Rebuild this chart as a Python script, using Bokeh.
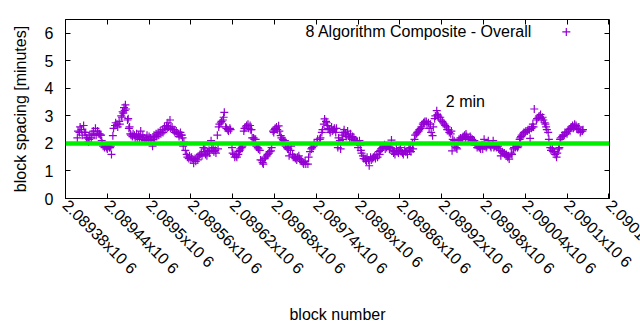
import math
from bokeh.plotting import figure
from bokeh.models import Range1d, FixedTicker, LinearAxis, Label, Span, ColumnDataSource
from bokeh.embed import file_html
from bokeh.resources import INLINE

# ---------------- data ----------------
block = [
    2089397, 2089398, 2089400, 2089401, 2089403, 2089404, 2089406, 2089407, 2089409, 2089410,
    2089412, 2089413, 2089414, 2089415, 2089417, 2089418, 2089420, 2089421, 2089423, 2089424,
    2089426, 2089427, 2089429, 2089430, 2089431, 2089432, 2089433, 2089434, 2089436, 2089437,
    2089439, 2089440, 2089442, 2089443, 2089444, 2089445, 2089446, 2089448, 2089449, 2089451,
    2089452, 2089454, 2089455, 2089457, 2089458, 2089460, 2089461, 2089462, 2089463, 2089464,
    2089465, 2089466, 2089467, 2089469, 2089470, 2089471, 2089472, 2089473, 2089474, 2089476,
    2089477, 2089479, 2089480, 2089482, 2089483, 2089485, 2089486, 2089487, 2089488, 2089490,
    2089491, 2089493, 2089494, 2089496, 2089497, 2089499, 2089500, 2089502, 2089503, 2089505,
    2089506, 2089507, 2089508, 2089510, 2089511, 2089513, 2089514, 2089516, 2089517, 2089519,
    2089520, 2089522, 2089523, 2089525, 2089526, 2089527, 2089528, 2089530, 2089531, 2089533,
    2089534, 2089536, 2089537, 2089539, 2089540, 2089542, 2089543, 2089545, 2089546, 2089547,
    2089548, 2089549, 2089550, 2089552, 2089554, 2089555, 2089557, 2089558, 2089560, 2089561,
    2089563, 2089564, 2089566, 2089567, 2089569, 2089570, 2089572, 2089573, 2089575, 2089576,
    2089578, 2089579, 2089580, 2089581, 2089583, 2089584, 2089586, 2089587, 2089589, 2089590,
    2089592, 2089593, 2089595, 2089596, 2089598, 2089599, 2089600, 2089601, 2089603, 2089604,
    2089606, 2089607, 2089608, 2089610, 2089611, 2089613, 2089614, 2089616, 2089617, 2089619,
    2089620, 2089622, 2089623, 2089625, 2089626, 2089628, 2089629, 2089630, 2089631, 2089633,
    2089634, 2089636, 2089637, 2089639, 2089640, 2089642, 2089643, 2089645, 2089646, 2089647,
    2089648, 2089650, 2089651, 2089653, 2089654, 2089656, 2089657, 2089659, 2089660, 2089662,
    2089663, 2089664, 2089666, 2089667, 2089669, 2089670, 2089672, 2089673, 2089675, 2089676,
    2089678, 2089679, 2089680, 2089681, 2089683, 2089684, 2089686, 2089687, 2089689, 2089690,
    2089692, 2089693, 2089695, 2089696, 2089698, 2089699, 2089700, 2089701, 2089703, 2089704,
    2089706, 2089707, 2089709, 2089710, 2089712, 2089713, 2089715, 2089716, 2089718, 2089719,
    2089721, 2089722, 2089724, 2089725, 2089728, 2089729, 2089731, 2089733, 2089734, 2089736,
    2089737, 2089741, 2089742, 2089745, 2089746, 2089748, 2089749, 2089751, 2089752, 2089754,
    2089755, 2089756, 2089757, 2089759, 2089760, 2089762, 2089763, 2089765, 2089766, 2089768,
    2089769, 2089771, 2089772, 2089774, 2089775, 2089777, 2089778, 2089779, 2089780, 2089782,
    2089783, 2089785, 2089786, 2089788, 2089789, 2089791, 2089792, 2089794, 2089795, 2089797,
    2089798, 2089799, 2089800, 2089802, 2089803, 2089804, 2089805, 2089807, 2089808, 2089810,
    2089811, 2089812, 2089813, 2089815, 2089816, 2089818, 2089819, 2089821, 2089822, 2089824,
    2089825, 2089827, 2089828, 2089830, 2089831, 2089832, 2089833, 2089835, 2089836, 2089838,
    2089839, 2089841, 2089842, 2089844, 2089845, 2089847, 2089848, 2089850, 2089851, 2089852,
    2089853, 2089855, 2089856, 2089858, 2089859, 2089861, 2089862, 2089864, 2089865, 2089867,
    2089868, 2089870, 2089871, 2089873, 2089874, 2089875, 2089876, 2089878, 2089879, 2089881,
    2089882, 2089884, 2089885, 2089887, 2089888, 2089890, 2089891, 2089893, 2089894, 2089895,
    2089896, 2089898, 2089899, 2089901, 2089902, 2089904, 2089905, 2089907, 2089908, 2089910,
    2089911, 2089913, 2089914, 2089915, 2089916, 2089918, 2089919, 2089921, 2089922, 2089924,
    2089925, 2089927, 2089928, 2089930, 2089931, 2089933, 2089934, 2089935, 2089936, 2089938,
    2089939, 2089941, 2089942, 2089944, 2089945, 2089947, 2089948, 2089950, 2089951, 2089953,
    2089954, 2089955, 2089956, 2089958, 2089959, 2089961, 2089962, 2089964, 2089965, 2089967,
    2089968, 2089970, 2089971, 2089973, 2089974, 2089975, 2089976, 2089978, 2089979, 2089981,
    2089982, 2089984, 2089985, 2089987, 2089988, 2089990, 2089991, 2089993, 2089994, 2089995,
    2089996, 2089998, 2089999, 2090001, 2090002, 2090004, 2090005, 2090007, 2090008, 2090010,
    2090011, 2090013, 2090014, 2090015, 2090016, 2090017, 2090020, 2090021, 2090023, 2090024,
    2090026, 2090027, 2090029, 2090030, 2090032, 2090033, 2090034, 2090035, 2090037, 2090038,
    2090040, 2090041, 2090043, 2090044, 2090046, 2090047, 2090049, 2090050, 2090051, 2090052,
    2090053, 2090056, 2090057, 2090059, 2090060, 2090062, 2090063, 2090065, 2090066, 2090068,
    2090069, 2090070, 2090071, 2090073, 2090074, 2090076, 2090077, 2090079, 2090080, 2090082,
    2090083, 2090085, 2090086, 2090088, 2090089, 2090090, 2090091, 2090093, 2090094, 2090096,
    2090097, 2090099, 2090100, 2090102, 2090103, 2090105, 2090106, 2090108, 2090109, 2090110,
    2090111, 2090113, 2090114, 2090116, 2090117, 2090119, 2090120, 2090122, 2090123,
]

spacing_minutes = [
    2.2, 2.45, 2.4, 2.6, 2.5, 2.3, 2.65, 2.4, 2.4, 2.2,
    2.2, 2.05, 2.15, 2.3, 2.2, 2.35, 2.45, 2.3, 2.55, 2.3,
    2.45, 2.35, 2.35, 2.3, 2.3, 2.1, 2.0, 1.9, 1.85, 1.9,
    1.85, 1.8, 1.9, 1.85, 1.85, 1.9, 1.6, 2.28, 2.55, 2.65,
    2.75, 2.7, 2.6, 2.8, 2.7, 3.0, 2.95, 3.15, 3.1, 3.3,
    3.2, 3.4, 3.25, 2.85, 2.9, 2.55, 2.6, 2.35, 2.3, 2.25,
    2.35, 2.3, 2.2, 2.35, 2.2, 2.3, 2.15, 2.25, 2.45, 2.2,
    2.3, 2.2, 2.1, 2.15, 2.3, 2.1, 2.25, 2.2, 2.1, 1.9,
    2.15, 2.3, 2.2, 2.35, 2.25, 2.4, 2.3, 2.45, 2.35, 2.5,
    2.4, 2.6, 2.5, 2.65, 2.55, 2.75, 2.6, 2.85, 2.55, 2.6,
    2.5, 2.5, 2.4, 2.45, 2.35, 2.35, 2.25, 2.4, 2.3, 2.3,
    2.2, 1.9, 2.05, 1.75, 1.6, 1.5, 1.45, 1.55, 1.4, 1.5,
    1.4, 1.28, 1.45, 1.35, 1.5, 1.4, 1.55, 1.6, 1.65, 1.55,
    1.85, 1.7, 1.8, 1.6, 1.55, 1.7, 1.75, 1.65, 2.1, 1.8,
    1.85, 1.7, 1.75, 1.65, 2.3, 1.8, 2.6, 2.7, 2.75, 2.8,
    2.85, 2.95, 3.13, 2.6, 2.55, 2.5, 2.45, 2.55, 2.5, 1.85,
    1.65, 1.6, 1.5, 1.55, 1.5, 1.6, 1.7, 1.75, 1.8, 1.85,
    1.9, 2.45, 2.55, 2.6, 2.65, 2.7, 2.55, 2.65, 2.5, 2.5,
    2.2, 2.2, 2.15, 2.15, 1.9, 1.85, 1.8, 1.75, 1.4, 1.37,
    1.3, 1.25, 1.45, 1.5, 1.55, 1.6, 1.65, 1.7, 1.73, 1.85,
    2.45, 2.4, 2.5, 2.55, 2.6, 2.5, 2.64, 2.45, 2.28, 2.2,
    2.15, 2.1, 2.1, 1.9, 1.85, 1.8, 1.8, 1.55, 1.75, 1.9,
    1.6, 1.5, 1.5, 1.45, 1.4, 1.5, 1.55, 1.45, 1.4, 1.35,
    1.3, 1.25, 1.35, 1.25, 1.25, 1.5, 1.7, 1.8, 1.85, 1.9,
    2.0, 2.05, 2.15, 2.15, 2.2, 2.4, 2.5, 2.7, 2.89, 2.8,
    2.75, 2.65, 2.55, 2.5, 2.4, 2.6, 2.45, 2.5, 2.55, 2.4,
    2.55, 1.85, 2.2, 2.1, 1.8, 2.3, 2.15, 2.4, 2.5, 2.35,
    2.25, 2.45, 2.3, 2.2, 2.35, 2.15, 2.25, 2.2, 2.1, 2.1,
    2.05, 2.05, 1.85, 2.1, 1.95, 1.75, 1.65, 1.55, 1.45, 1.45,
    1.4, 1.35, 1.5, 1.4, 1.19, 1.5, 1.4, 1.45, 1.5, 1.55,
    1.45, 1.6, 1.5, 1.7, 1.6, 1.75, 1.8, 1.85, 1.9, 1.95,
    1.8, 1.85, 1.9, 1.9, 1.8, 1.85, 2.12, 1.75, 1.65, 1.7,
    1.6, 1.8, 1.7, 1.65, 1.75, 1.85, 1.7, 1.65, 1.6, 1.75,
    1.7, 1.7, 1.6, 1.8, 1.75, 1.85, 1.7, 2.0, 1.8, 2.15,
    2.3, 2.35, 2.4, 2.45, 2.5, 2.55, 2.6, 2.7, 2.75, 2.75,
    2.8, 2.8, 2.7, 2.75, 2.55, 2.7, 2.4, 2.28, 2.6, 2.9,
    3.0, 3.19, 3.05, 3.0, 2.95, 2.95, 2.85, 2.8, 2.75, 2.7,
    2.65, 2.6, 2.5, 2.5, 2.4, 2.35, 2.45, 1.73, 2.15, 2.1,
    1.9, 1.85, 1.8, 2.1, 2.15, 2.2, 2.15, 2.2, 2.25, 2.3,
    2.2, 2.34, 2.25, 2.2, 2.15, 2.25, 2.2, 2.15, 2.1, 2.1,
    1.95, 1.95, 1.85, 1.9, 1.85, 1.85, 1.8, 1.95, 1.8, 2.15,
    1.9, 1.85, 1.9, 2.1, 1.95, 1.9, 1.85, 1.95, 2.1, 1.85,
    1.9, 1.9, 1.85, 1.9, 1.8, 1.75, 1.55, 1.7, 1.65, 1.65,
    1.6, 1.6, 1.55, 1.5, 1.55, 1.43, 1.65, 1.6, 1.8, 1.85,
    1.85, 1.9, 1.85, 1.9, 2.15, 2.2, 2.25, 2.3, 2.35, 2.4,
    2.4, 2.45, 2.45, 2.5, 2.5, 2.18, 2.55, 2.6, 2.7, 2.6,
    3.25, 2.85, 2.9, 2.95, 3.0, 3.05, 2.9, 2.95, 2.85, 2.75,
    2.7, 2.6, 2.5, 2.4, 2.15, 1.85, 1.75, 1.8, 1.7, 1.7,
    1.6, 1.5, 1.65, 1.8, 1.85, 2.15, 2.2, 2.25, 2.3, 2.3,
    2.4, 2.4, 2.35, 2.45, 2.5, 2.55, 2.6, 2.65, 2.55, 2.6,
    2.7, 2.65, 2.55, 2.5, 2.6, 2.4, 2.45, 2.45, 2.5,
]

target_minutes = 2

x_tick_values = [2089380, 2089440, 2089500, 2089560, 2089620, 2089680, 2089740,
                 2089800, 2089860, 2089920, 2089980, 2090040, 2090100, 2090160]
x_tick_labels = ["2.08938x10 6", "2.08944x10 6", "2.0895x10 6", "2.08956x10 6",
                 "2.08962x10 6", "2.08968x10 6", "2.08974x10 6", "2.0898x10 6",
                 "2.08986x10 6", "2.08992x10 6", "2.08998x10 6", "2.09004x10 6",
                 "2.0901x10 6", "2.09016x10 6"]
y_tick_values = [0, 1, 2, 3, 4, 5, 6]

series_name = "8 Algorithm Composite - Overall"
note_text = "2 min"

assert len(block) == len(spacing_minutes)

# ---------------- plot ----------------
FONT = "Liberation Sans"
PURPLE = "#9400d3"
ROT = -math.pi / 4

x_start = x_tick_values[0]
x_end = x_tick_values[-1] + 1      # a hair past the last tick (see below)

p = figure(width=640, height=330, output_backend="svg", toolbar_location=None,
           x_range=Range1d(x_start, x_end), y_range=Range1d(0, 6.5),
           min_border_left=65, min_border_right=31, min_border_top=19,
           min_border_bottom=132)
p.background_fill_color = "white"
p.border_fill_color = "white"
p.outline_line_color = "black"
p.outline_line_width = 1
p.xgrid.visible = False
p.ygrid.visible = False

src = ColumnDataSource(dict(x=block, y=spacing_minutes))
p.scatter("x", "y", source=src, marker="cross", size=8, line_color=PURPLE,
          line_width=1.2)

p.add_layout(Span(location=target_minutes, dimension="width",
                  line_color="#00ee00", line_width=4.5))

# bottom axis.  An extra, unlabelled tick at the very end of the range keeps
# Bokeh from sliding the last real label back inside the canvas, so that it
# runs off the page edge like in the reference.
xa = p.xaxis[0]
xa.ticker = FixedTicker(ticks=x_tick_values + [x_end])
overrides = {v: s for v, s in zip(x_tick_values, x_tick_labels)}
overrides[x_end] = ""
xa.major_label_overrides = overrides
xa.major_label_orientation = ROT
xa.axis_label = "block number"
xa.axis_label_standoff = 20

ya = p.yaxis[0]
ya.ticker = FixedTicker(ticks=y_tick_values)
ya.axis_label = "block spacing [minutes]"
ya.axis_label_standoff = 13

for ax in (xa, ya):
    ax.major_tick_in = 5
    ax.major_tick_out = 0
    ax.minor_tick_line_color = None
    ax.major_label_standoff = 12 if ax is ya else 4
    ax.major_label_text_font = FONT
    ax.major_label_text_font_size = "16px"
    ax.major_label_text_color = "black"
    ax.axis_label_text_font = FONT
    ax.axis_label_text_font_size = "16px"
    ax.axis_label_text_font_style = "normal"
    ax.axis_label_text_color = "black"
    ax.axis_line_color = "black"

# mirrored tick marks on top and right (no labels)
top = LinearAxis(ticker=FixedTicker(ticks=x_tick_values),
                 major_label_overrides={v: "" for v in x_tick_values},
                 major_label_text_font_size="1px",
                 major_tick_in=5, major_tick_out=0, minor_tick_line_color=None,
                 axis_line_color=None, major_label_standoff=0)
p.add_layout(top, "above")
right = LinearAxis(ticker=FixedTicker(ticks=y_tick_values),
                   major_label_overrides={v: "" for v in y_tick_values},
                   major_label_text_font_size="1px",
                   major_tick_in=5, major_tick_out=0, minor_tick_line_color=None,
                   axis_line_color=None, major_label_standoff=0)
p.add_layout(right, "right")

# key (text, then sample on its right, gnuplot style)
p.add_layout(Label(x=2090050, y=6.05, text=series_name, text_align="right",
                   text_baseline="middle", text_font=FONT, text_font_size="16px",
                   text_color="black"))
key_src = ColumnDataSource(dict(x=[2090099], y=[6.05]))
p.scatter("x", "y", source=key_src, marker="cross", size=8, line_color=PURPLE,
          line_width=1.2)

p.add_layout(Label(x=2089926, y=3.54, text=note_text, text_align="left",
                   text_baseline="middle", text_font=FONT, text_font_size="16px",
                   text_color="black"))

open("out.html", "w").write(file_html(p, INLINE))
